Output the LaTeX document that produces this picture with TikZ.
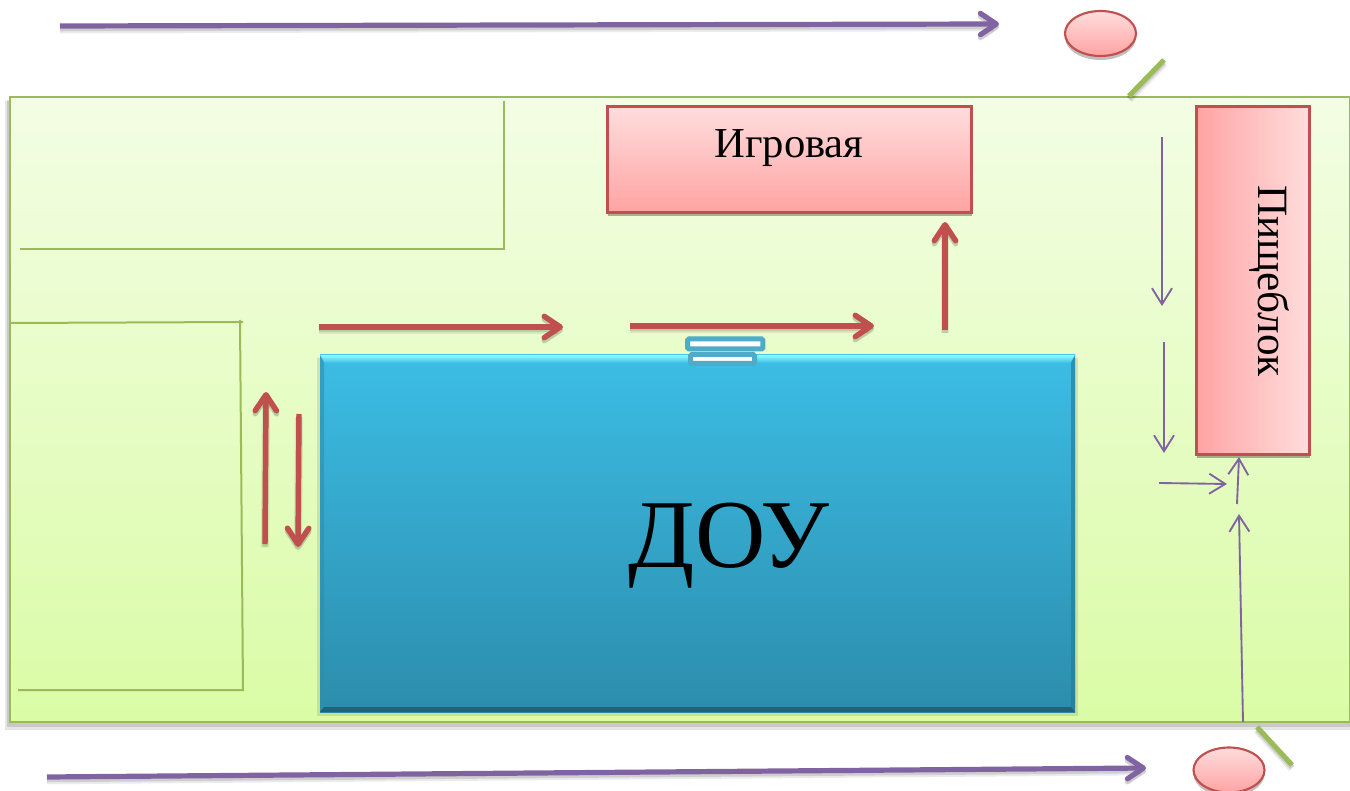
\documentclass[tikz,border=0pt]{standalone}
\usepackage{fontspec}
\setmainfont{Liberation Serif}
\usetikzlibrary{arrows.meta,shadows,shapes.geometric}
\definecolor{grn}{HTML}{9BBB59}
\definecolor{red1}{HTML}{C0504D}
\definecolor{pur}{HTML}{8064A2}
\definecolor{blu}{HTML}{4DACC8}
\definecolor{plottop}{HTML}{F3FDE4}
\definecolor{plotbot}{HTML}{DAFCA6}
\definecolor{pinkL}{HTML}{FFDDDD}
\definecolor{pinkD}{HTML}{FFA3A3}
\definecolor{douT}{HTML}{3CBDE5}
\definecolor{douB}{HTML}{2C8DAD}
\tikzset{
  every node/.append style={outer sep=0pt},
  softshadow/.style={preaction={draw=black,draw opacity=.08,line width=#1+2pt,transform canvas={yshift=-2.5pt}},
                     preaction={draw=black,draw opacity=.12,line width=#1,transform canvas={yshift=-2pt}}},
  bigarrow/.style={draw=pur,line width=3.9pt,-{Straight Barb[round,length=12pt,width=16pt,line width=3.9pt]},softshadow=3.9pt},
  redarrow/.style={draw=red1,line width=4.1pt,-{Straight Barb[round,length=12pt,width=16pt,line width=4.1pt]},softshadow=4.1pt},
  thinarrow/.style={draw=pur,line width=1.4pt,-{Straight Barb[length=12pt,width=15pt,line width=1.4pt]}},
  fence/.style={draw=grn,line width=1.5pt},
  gate/.style={draw=grn,line width=3.8pt,softshadow=3.8pt},
  pinkbox/.style={rectangle,draw=red1,line width=1.6pt,inner sep=0pt,
     general shadow={fill=black,opacity=.3,shadow xshift=0pt,shadow yshift=-2.5pt}},
  person/.style={ellipse,draw=red1,line width=1.6pt,inner sep=0pt,minimum width=53.25pt,minimum height=33.75pt,
     top color=pinkL,bottom color=pinkD,
     general shadow={fill=black,opacity=.25,shadow xshift=0pt,shadow yshift=-3pt}},
  door/.style={rectangle,draw=blu,line width=3.75pt,fill=white,inner sep=0pt,rounded corners=1pt},
  lbl/.style={inner sep=0pt,text=black},
}
\begin{document}
\begin{tikzpicture}[x=0.75pt,y=-0.75pt]
\useasboundingbox (0,0) rectangle (1350,791);
% plot with soft shadow
\fill[black,opacity=.10] (5,101) rectangle (1350,730);
\fill[black,opacity=.12] (7,100) rectangle (1350,727);
\node[draw=grn,line width=1.8pt,inner sep=0pt,anchor=north west,minimum width=1005pt,minimum height=468.75pt,
      top color=plottop,bottom color=plotbot] (plot) at (10,97) {};
% fences
\coordinate (f1) at (504,101); \coordinate (f2) at (504,249); \coordinate (f3) at (20,249);
\coordinate (g1) at (10,323); \coordinate (g2) at (243,322); \coordinate (g3) at (240,320);
\coordinate (g4) at (243,690); \coordinate (g5) at (18,690);
\draw[fence] (f1) -- (f2) -- (f3);
\draw[fence] (g1) -- (g2);
\draw[fence] (g3) -- (g4) -- (g5);
% DOU
\fill[black,opacity=.10] (317,358) rectangle (1078,716);
\node[rectangle,inner sep=0pt,anchor=north west,minimum width=566.25pt,minimum height=267.75pt,
      top color=douT,bottom color=douB] (dou) at (320,355) {};
\shade[top color=white!55!cyan,bottom color=douT] (320,355) -- (1075,355) -- (1070,363) -- (325,363) -- cycle;
\fill[black!25!douT,opacity=.6] (320,355) -- (324,363) -- (324,707) -- (320,712) -- cycle;
\fill[black!35!douT,opacity=.65] (1075,355) -- (1071,363) -- (1071,707) -- (1075,712) -- cycle;
\fill[black!30!douB] (320,712) -- (324,707) -- (1071,707) -- (1075,712) -- cycle;
\node[lbl,font=\fontsize{73pt}{73pt}\selectfont] (doulbl) at (729,546) {ДОУ};
% doors
\node[door,anchor=north west,minimum width=56.6pt,minimum height=7.5pt] (door1) at (687.5,339) {};
\node[door,anchor=north west,minimum width=48pt,minimum height=6.75pt] (door2) at (690.5,354.5) {};
% pink boxes
\node[pinkbox,anchor=north west,minimum width=273pt,minimum height=79.5pt,top color=pinkL,bottom color=pinkD] (game) at (607.5,106.5) {};
\node[lbl,font=\fontsize{32pt}{32pt}\selectfont] (gamelbl) at (789,148) {Игровая};
\node[pinkbox,anchor=north west,minimum width=84.75pt,minimum height=261pt,left color=pinkD,right color=pinkL] (food) at (1196.5,106.5) {};
\node[lbl,rotate=-90,font=\fontsize{32.4pt}{32.4pt}\selectfont] (foodlbl) at (1269,281) {Пищеблок};
% people
\node[person] (p1) at (1100.5,33.5) {};
\node[person] (p2) at (1229,770) {};
% gates
\coordinate (a1) at (1129,96); \coordinate (a2) at (1164,60);
\coordinate (b1) at (1257,727); \coordinate (b2) at (1292,765);
\draw[gate] (a1) -- (a2);
\draw[gate] (b1) -- (b2);
% street arrows
\coordinate (s1) at (60,26); \coordinate (s2) at (999,24);
\coordinate (s3) at (47,777); \coordinate (s4) at (1146,768);
\draw[bigarrow] (s1) -- (s2);
\draw[bigarrow] (s3) -- (s4);
% red arrows
\coordinate (r1) at (319,327); \coordinate (r2) at (563,327);
\coordinate (r3) at (630,326); \coordinate (r4) at (874,326);
\coordinate (r5) at (945,330); \coordinate (r6) at (945,222);
\coordinate (r7) at (265,544); \coordinate (r8) at (266,392);
\coordinate (r9) at (299,414); \coordinate (r10) at (298,547);
\draw[redarrow] (r1) -- (r2);
\draw[redarrow] (r3) -- (r4);
\draw[redarrow] (r5) -- (r6);
\draw[redarrow] (r7) -- (r8);
\draw[redarrow] (r9) -- (r10);
% thin arrows
\coordinate (t1) at (1162,137); \coordinate (t2) at (1162,306);
\coordinate (t3) at (1164,342); \coordinate (t4) at (1164,453);
\coordinate (t5) at (1159,483); \coordinate (t6) at (1227,484);
\coordinate (t7) at (1237,504); \coordinate (t8) at (1239,457);
\coordinate (t9) at (1243,722); \coordinate (t10) at (1239,514);
\draw[thinarrow] (t1) -- (t2);
\draw[thinarrow] (t3) -- (t4);
\draw[thinarrow] (t5) -- (t6);
\draw[thinarrow] (t7) -- (t8);
\draw[thinarrow] (t9) -- (t10);
\end{tikzpicture}
\end{document}
